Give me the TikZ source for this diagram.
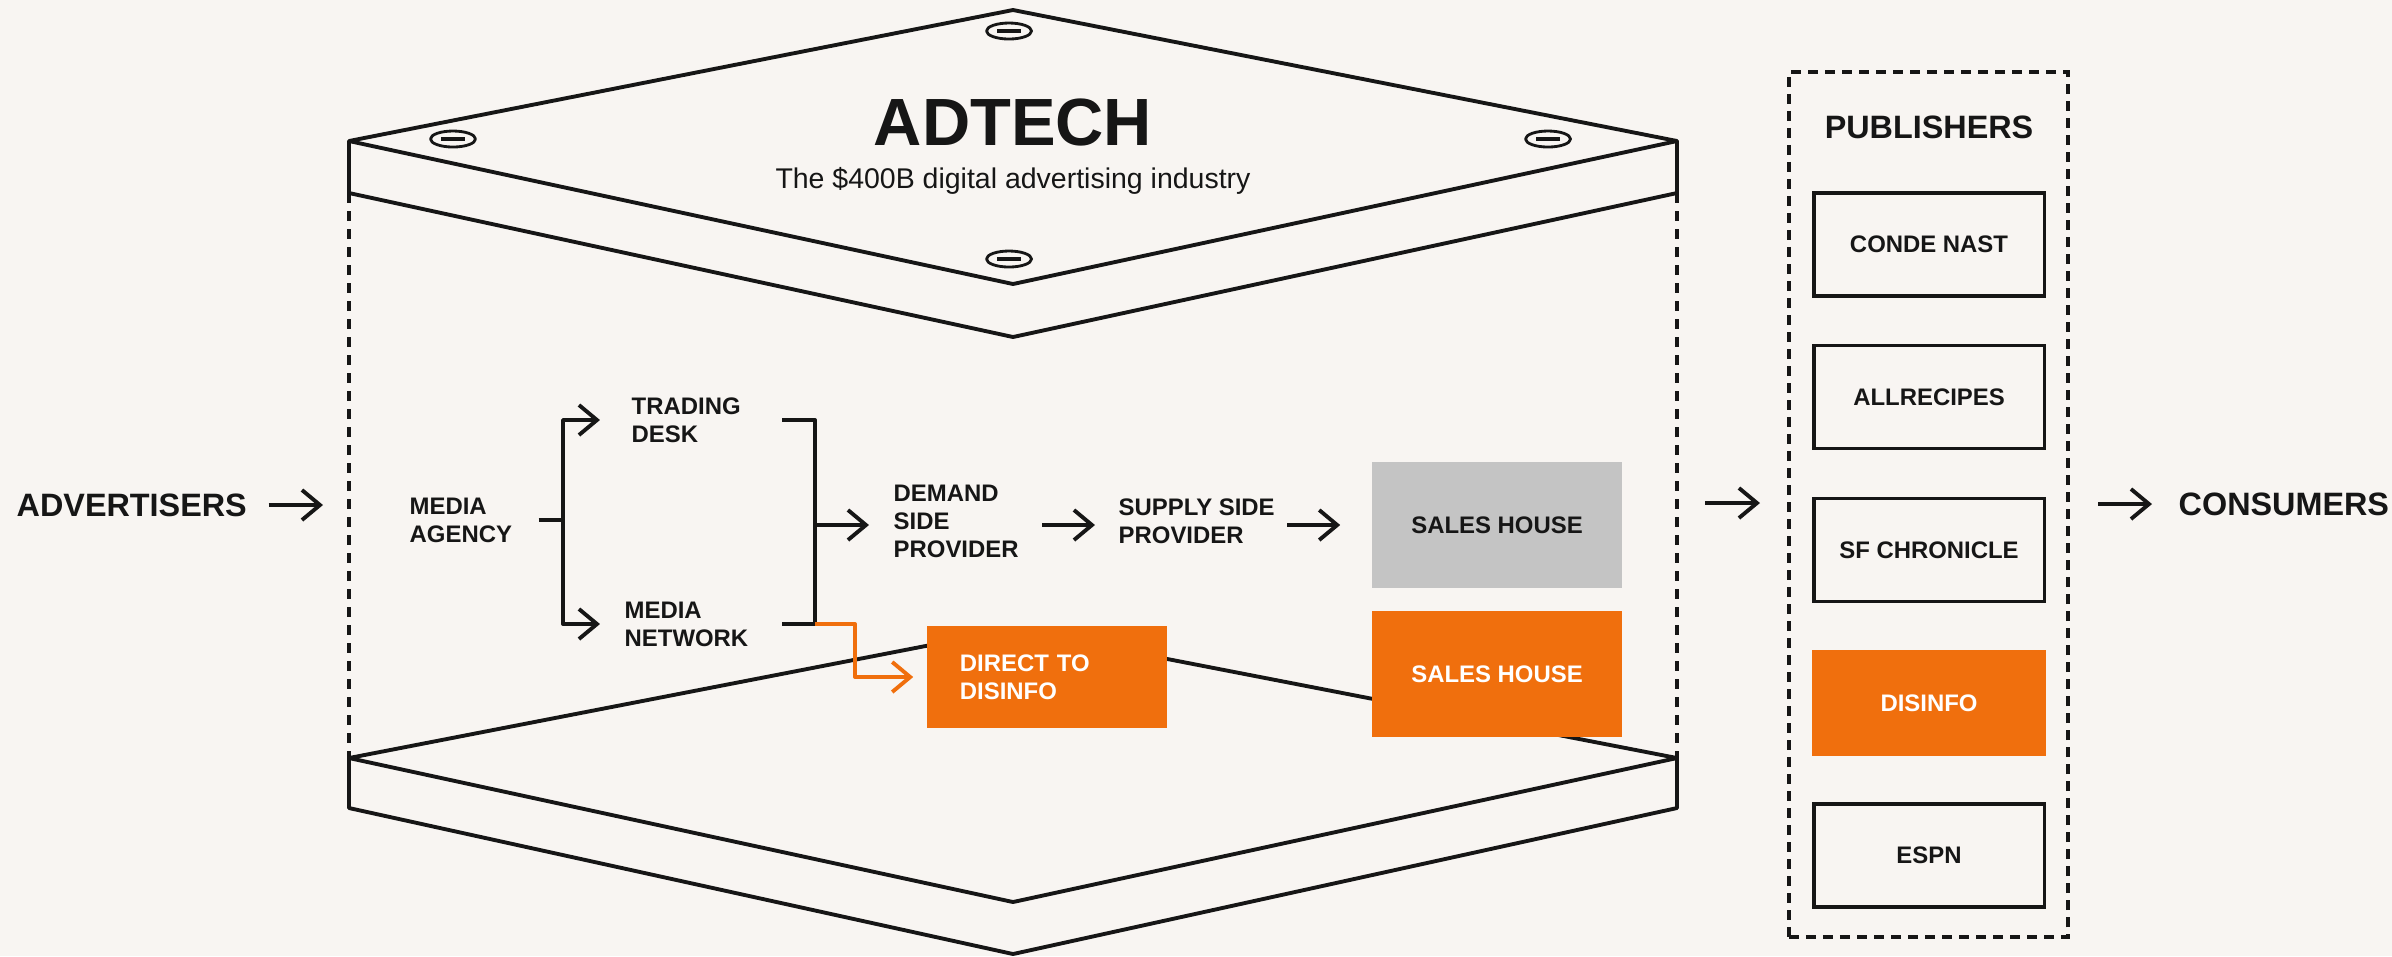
\documentclass[tikz,border=0pt]{standalone}
\usepackage{fontspec}
\setmainfont{Liberation Sans}
\usetikzlibrary{arrows.meta,positioning}
\definecolor{paper}{HTML}{F8F5F2}
\definecolor{ink}{HTML}{161616}
\definecolor{disorange}{HTML}{F06F0D}
\definecolor{housegray}{HTML}{C4C4C4}
\begin{document}
\begin{tikzpicture}[x=0.01cm,y=-0.01cm,
  line/.style={draw=ink, line width=1.1pt, line join=round},
  arrow/.style={line, -{Straight Barb[length=0.18cm,width=0.3cm]}},
  orarrow/.style={arrow, draw=disorange},
  wall/.style={line, dash pattern=on 0.1cm off 0.08cm},
  bigtext/.style={text=ink, font=\fontsize{9.2}{11}\selectfont\bfseries, inner sep=0},
  smalltext/.style={text=ink, font=\fontsize{6.8}{8}\selectfont\bfseries, inner sep=0, align=left},
  housebox/.style={minimum width=2.5cm, minimum height=1.26cm, inner sep=0,
    font=\fontsize{6.8}{8}\selectfont\bfseries},
  pubbox/.style={draw=ink, line width=0.9pt, minimum width=2.3cm, minimum height=1.03cm,
    inner sep=0, text=ink, font=\fontsize{6.8}{8}\selectfont\bfseries}]
\fill[paper] (0,0) rectangle (2392,956);
\useasboundingbox (0,0) rectangle (2392,956);

% the adtech block
\draw[line] (349,141) -- (1013,10) -- (1677,141) -- (1013,284) -- cycle;
\draw[line] (349,141) -- (349,193) -- (1013,337) -- (1677,193) -- (1677,141);
\foreach \p in {(1009,31),(453,139),(1548,139),(1009,259)} {
  \draw[line, line width=0.8pt] \p ellipse [x radius=0.225cm, y radius=0.08cm];
  \draw[line] \p ++(-12,0) -- ++(24,0);
}
\draw[line] (349,758) -- (1013,629) -- (1677,758) -- (1013,902) -- cycle;
\draw[line] (349,758) -- (349,808) -- (1013,954) -- (1677,808) -- (1677,758);
\draw[wall] (349,193) -- (349,758);
\draw[wall] (1677,193) -- (1677,758);
\node[text=ink, font=\fontsize{19}{22}\selectfont\bfseries, inner sep=0, anchor=base] (adtech) at (1013,145) {ADTECH};
\node[text=ink, font=\fontsize{8.1}{10}\selectfont, inner sep=0, anchor=base] (tagline) at (1013,188) {The \$400B digital advertising industry};

% advertisers into the chain
\node[bigtext, anchor=west] (advertisers) at (16,505) {ADVERTISERS};
\coordinate (adin) at (323,505);
\draw[arrow, shorten <=0.21cm] (advertisers) -- (adin);

\node[smalltext, anchor=west] (agency) at (409,520) {MEDIA\\AGENCY};
\node[smalltext, anchor=west] (desk) at (631,420) {TRADING\\DESK};
\node[smalltext, anchor=west] (network) at (624,624) {MEDIA\\NETWORK};
\coordinate (split) at (563,520);
\coordinate (join) at (815,525);
\draw[arrow, shorten <=0.26cm, shorten >=0.31cm] (agency.east) -- (split) |- (desk.west);
\draw[arrow, shorten >=0.24cm] (split) |- (network.west);
\draw[line, shorten <=0.41cm, shorten >=0.33cm] (desk.east) -| (join) |- (network.east);

\node[smalltext, anchor=west] (dsp) at (893,521) {DEMAND\\SIDE\\PROVIDER};
\node[smalltext, anchor=west] (ssp) at (1118,521) {SUPPLY SIDE\\PROVIDER};
\node[housebox, fill=housegray, text=ink] (salesgray) at (1497,525) {SALES HOUSE};
\node[housebox, fill=disorange, text=white] (salesorange) at (1497,674) {SALES HOUSE};
\node[fill=disorange, text=white, font=\fontsize{6.8}{8}\selectfont\bfseries, align=left,
  text width=1.74cm, inner xsep=0.33cm, inner ysep=0, minimum height=1.02cm] (direct) at (1047,677) {DIRECT TO\\DISINFO};
\draw[arrow, shorten >=0.24cm] (join) -- (join -| dsp.west);
\draw[arrow, shorten <=0.23cm, shorten >=0.23cm] (dsp.east |- join) -- (ssp.west |- join);
\draw[arrow, shorten <=0.12cm, shorten >=0.31cm] (ssp.east |- join) -- (salesgray.west |- join);
\draw[orarrow, shorten >=0.13cm] (join |- network.east) -- ++(40,0) |- (direct.west);

% publishers
\node[draw=ink, line width=1.1pt, dash pattern=on 0.1cm off 0.07cm, minimum width=2.79cm,
  minimum height=8.65cm, inner sep=0] (pubframe) at (1928.5,504.5) {};
\node[bigtext] (publishers) at (1929,127) {PUBLISHERS};
\node[pubbox] (conde) at (1929,244.5) {CONDE NAST};
\node[pubbox, below=0.465cm of conde] (allrecipes) {ALLRECIPES};
\node[pubbox, below=0.465cm of allrecipes] (sfchron) {SF CHRONICLE};
\node[pubbox, below=0.465cm of sfchron, draw=disorange, fill=disorange, text=white] (disinfo) {DISINFO};
\node[pubbox, below=0.465cm of disinfo] (espn) {ESPN};
\coordinate (adout) at (1705,503);
\draw[arrow, shorten >=0.27cm] (adout) -- (adout -| pubframe.west);

\node[bigtext, anchor=west] (consumers) at (2178,504) {CONSUMERS};
\draw[arrow, shorten <=0.28cm, shorten >=0.26cm] (pubframe.east |- consumers) -- (consumers.west);
\end{tikzpicture}
\end{document}
